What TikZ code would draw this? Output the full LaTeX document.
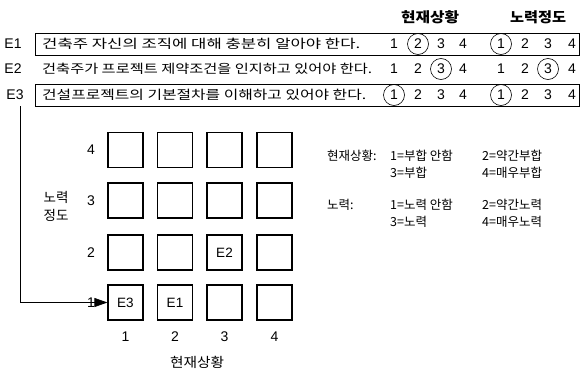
\documentclass[tikz,border=0pt]{standalone}
\usepackage{fontspec}
\usepackage{graphicx}
\setmainfont{Liberation Sans}
\newfontfamily\kr{Noto Sans CJK KR}
\usetikzlibrary{arrows.meta}
\tikzset{
  lab/.style={font=\fontsize{14}{14}\selectfont, inner sep=0},
  num/.style={font=\fontsize{14}{14}\selectfont, inner sep=0},
  ring/.style={draw, circle, minimum size=21pt, inner sep=0, line width=0.6pt},
  rowbox/.style={draw, line width=0.8pt, minimum width=544pt, minimum height=22pt, inner sep=0, anchor=west},
  cell/.style={draw, line width=1.2pt, minimum size=35pt, inner sep=0, font=\fontsize{13.5}{13.5}\selectfont},
  stmt/.style={anchor=west, inner sep=0, font=\kr\fontsize{12.5}{13}\selectfont},
  head/.style={inner sep=0, font=\kr\bfseries\fontsize{14}{14}\selectfont},
  ktext/.style={inner sep=0, font=\kr\fontsize{13.5}{14}\selectfont},
  leg/.style={inner sep=0, anchor=west, font=\kr\fontsize{12.5}{13}\selectfont},
}
\begin{document}
\begin{tikzpicture}[x=1pt,y=-1pt]
\useasboundingbox (0,0) rectangle (581,372);
% headers
\node[head] (h1) at (430,17) {\resizebox{58pt}{\height}{현재상황}};
\node[head] (h2) at (538,17) {\resizebox{56pt}{\height}{노력정도}};
% row boxes
\node[rowbox] (r1) at (35,44) {};
\node[rowbox] (r3) at (35,95) {};
% labels
\node[lab] (e1) at (13,44) {E1};
\node[lab] (e2) at (13,69) {E2};
\node[lab] (e3) at (15,95) {E3};
% statements
\node[stmt] (s1) at (42,44) {\resizebox{318pt}{\height}{건축주 자신의 조직에 대해 충분히 알아야 한다.}};
\node[stmt] (s2) at (42,69) {\resizebox{330pt}{\height}{건축주가 프로젝트 제약조건을 인지하고 있어야 한다.}};
\node[stmt] (s3) at (42,95) {\resizebox{324pt}{\height}{건설프로젝트의 기본절차를 이해하고 있어야 한다.}};
% numbers
\foreach \r/\y in {1/44,2/69,3/95}{
  \node[num] (c\r a) at (394,\y) {1};
  \node[num] (c\r b) at (418,\y) {2};
  \node[num] (c\r c) at (441,\y) {3};
  \node[num] (c\r d) at (463,\y) {4};
  \node[num] (n\r a) at (501,\y) {1};
  \node[num] (n\r b) at (525,\y) {2};
  \node[num] (n\r c) at (548,\y) {3};
  \node[num] (n\r d) at (572,\y) {4};
}
\node[ring] at (c1b) {};
\node[ring] at (n1a) {};
\node[ring] at (c2c) {};
\node[ring] at (n2c) {};
\node[ring] at (c3a) {};
\node[ring] at (n3a) {};
% grid
\foreach \i/\x in {1/125.5,2/175,3/224.5,4/274.5}{
  \foreach \j/\y in {4/150,3/200.5,2/252.5,1/302.5}{
    \node[cell] (g\i\j) at (\x,\y) {};
  }
  \node[num] (cx\i) at (\x,337) {\i};
}
\node[font=\fontsize{13.5}{13.5}\selectfont] at (g11) {E3};
\node[font=\fontsize{13.5}{13.5}\selectfont] at (g21) {E1};
\node[font=\fontsize{13.5}{13.5}\selectfont] at (g32) {E2};
\foreach \j/\y in {4/150,3/200.5,2/252.5,1/302.5}{
  \node[num] (ry\j) at (91,\y) {\j};
}
\node[ktext] (ylab1) at (56,197) {노력};
\node[ktext] (ylab2) at (56,215) {정도};
\node[ktext] (xlab) at (197,362) {\resizebox{54pt}{\height}{현재상황}};
% arrow
\draw[line width=0.7pt, -{Triangle[length=13pt,width=9pt]}] ([xshift=5pt,yshift=-6pt]e3.south) |- (g11.west);
% legend
\node[leg] (l1) at (327,156) {현재상황:};
\node[leg] (l1a) at (390,156) {1=부합 안함};
\node[leg] (l1b) at (482,156) {2=약간부합};
\node[leg] (l2a) at (390,173) {3=부합};
\node[leg] (l2b) at (482,173) {4=매우부합};
\node[leg] (l3) at (327,205) {노력:};
\node[leg] (l3a) at (390,205) {1=노력 안함};
\node[leg] (l3b) at (482,205) {2=약간노력};
\node[leg] (l4a) at (390,222) {3=노력};
\node[leg] (l4b) at (482,222) {4=매우노력};
\end{tikzpicture}
\end{document}
